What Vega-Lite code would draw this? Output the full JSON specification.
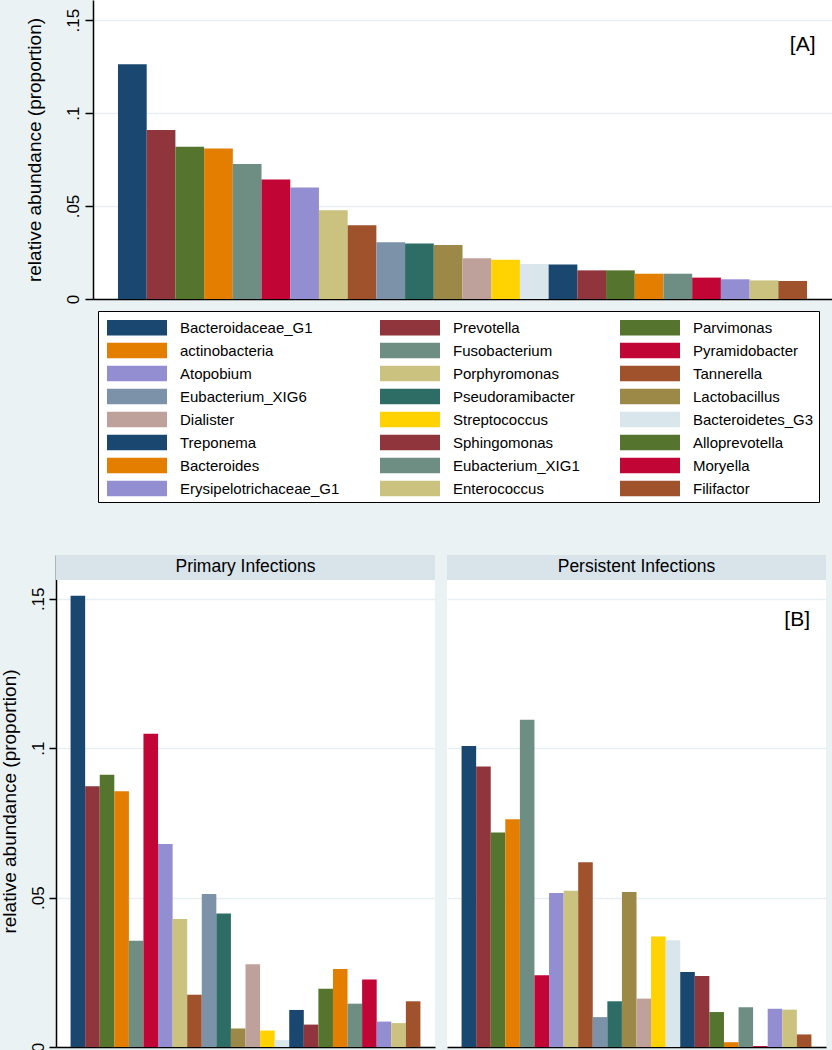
{
  "$schema": "https://vega.github.io/schema/vega-lite/v6.json",
  "background": "#EAF2F3",
  "padding": {"left": 0, "top": 0, "right": 0, "bottom": 0},
  "config": {
    "font": "Liberation Sans",
    "view": {"fill": "white", "stroke": null},
    "axis": {"zindex": 0, "domainColor": "#000000", "domainWidth": 1.5, "tickColor": "#000000", "tickWidth": 1.5, "gridColor": "#E6EFF1", "gridWidth": 1.3, "labelColor": "#000000", "titleColor": "#000000", "titleFontWeight": "normal"}
  },
  "datasets": {
    "overall": [
      {"taxon": "Bacteroidaceae_G1", "rank": 1, "value": 0.1262},
      {"taxon": "Prevotella", "rank": 2, "value": 0.0909},
      {"taxon": "Parvimonas", "rank": 3, "value": 0.0819},
      {"taxon": "actinobacteria", "rank": 4, "value": 0.0810},
      {"taxon": "Fusobacterium", "rank": 5, "value": 0.0726},
      {"taxon": "Pyramidobacter", "rank": 6, "value": 0.0643},
      {"taxon": "Atopobium", "rank": 7, "value": 0.0599},
      {"taxon": "Porphyromonas", "rank": 8, "value": 0.0477},
      {"taxon": "Tannerella", "rank": 9, "value": 0.0396},
      {"taxon": "Eubacterium_XIG6", "rank": 10, "value": 0.0305},
      {"taxon": "Pseudoramibacter", "rank": 11, "value": 0.0299},
      {"taxon": "Lactobacillus", "rank": 12, "value": 0.0290},
      {"taxon": "Dialister", "rank": 13, "value": 0.0219},
      {"taxon": "Streptococcus", "rank": 14, "value": 0.0211},
      {"taxon": "Bacteroidetes_G3", "rank": 15, "value": 0.0188},
      {"taxon": "Treponema", "rank": 16, "value": 0.0186},
      {"taxon": "Sphingomonas", "rank": 17, "value": 0.0154},
      {"taxon": "Alloprevotella", "rank": 18, "value": 0.0154},
      {"taxon": "Bacteroides", "rank": 19, "value": 0.0136},
      {"taxon": "Eubacterium_XIG1", "rank": 20, "value": 0.0136},
      {"taxon": "Moryella", "rank": 21, "value": 0.0115},
      {"taxon": "Erysipelotrichaceae_G1", "rank": 22, "value": 0.0106},
      {"taxon": "Enterococcus", "rank": 23, "value": 0.0100},
      {"taxon": "Filifactor", "rank": 24, "value": 0.0097}
    ],
    "infections": [
      {"group": "Primary Infections", "taxon": "Bacteroidaceae_G1", "rank": 1, "value": 0.1510},
      {"group": "Primary Infections", "taxon": "Prevotella", "rank": 2, "value": 0.0873},
      {"group": "Primary Infections", "taxon": "Parvimonas", "rank": 3, "value": 0.0911},
      {"group": "Primary Infections", "taxon": "actinobacteria", "rank": 4, "value": 0.0856},
      {"group": "Primary Infections", "taxon": "Fusobacterium", "rank": 5, "value": 0.0356},
      {"group": "Primary Infections", "taxon": "Pyramidobacter", "rank": 6, "value": 0.1048},
      {"group": "Primary Infections", "taxon": "Atopobium", "rank": 7, "value": 0.0679},
      {"group": "Primary Infections", "taxon": "Porphyromonas", "rank": 8, "value": 0.0428},
      {"group": "Primary Infections", "taxon": "Tannerella", "rank": 9, "value": 0.0175},
      {"group": "Primary Infections", "taxon": "Eubacterium_XIG6", "rank": 10, "value": 0.0512},
      {"group": "Primary Infections", "taxon": "Pseudoramibacter", "rank": 11, "value": 0.0447},
      {"group": "Primary Infections", "taxon": "Lactobacillus", "rank": 12, "value": 0.0062},
      {"group": "Primary Infections", "taxon": "Dialister", "rank": 13, "value": 0.0277},
      {"group": "Primary Infections", "taxon": "Streptococcus", "rank": 14, "value": 0.0055},
      {"group": "Primary Infections", "taxon": "Bacteroidetes_G3", "rank": 15, "value": 0.0023},
      {"group": "Primary Infections", "taxon": "Treponema", "rank": 16, "value": 0.0124},
      {"group": "Primary Infections", "taxon": "Sphingomonas", "rank": 17, "value": 0.0075},
      {"group": "Primary Infections", "taxon": "Alloprevotella", "rank": 18, "value": 0.0195},
      {"group": "Primary Infections", "taxon": "Bacteroides", "rank": 19, "value": 0.0261},
      {"group": "Primary Infections", "taxon": "Eubacterium_XIG1", "rank": 20, "value": 0.0145},
      {"group": "Primary Infections", "taxon": "Moryella", "rank": 21, "value": 0.0226},
      {"group": "Primary Infections", "taxon": "Erysipelotrichaceae_G1", "rank": 22, "value": 0.0085},
      {"group": "Primary Infections", "taxon": "Enterococcus", "rank": 23, "value": 0.0080},
      {"group": "Primary Infections", "taxon": "Filifactor", "rank": 24, "value": 0.0153},
      {"group": "Persistent Infections", "taxon": "Bacteroidaceae_G1", "rank": 1, "value": 0.1007},
      {"group": "Persistent Infections", "taxon": "Prevotella", "rank": 2, "value": 0.0939},
      {"group": "Persistent Infections", "taxon": "Parvimonas", "rank": 3, "value": 0.0718},
      {"group": "Persistent Infections", "taxon": "actinobacteria", "rank": 4, "value": 0.0762},
      {"group": "Persistent Infections", "taxon": "Fusobacterium", "rank": 5, "value": 0.1095},
      {"group": "Persistent Infections", "taxon": "Pyramidobacter", "rank": 6, "value": 0.0240},
      {"group": "Persistent Infections", "taxon": "Atopobium", "rank": 7, "value": 0.0515},
      {"group": "Persistent Infections", "taxon": "Porphyromonas", "rank": 8, "value": 0.0523},
      {"group": "Persistent Infections", "taxon": "Tannerella", "rank": 9, "value": 0.0618},
      {"group": "Persistent Infections", "taxon": "Eubacterium_XIG6", "rank": 10, "value": 0.0100},
      {"group": "Persistent Infections", "taxon": "Pseudoramibacter", "rank": 11, "value": 0.0153},
      {"group": "Persistent Infections", "taxon": "Lactobacillus", "rank": 12, "value": 0.0519},
      {"group": "Persistent Infections", "taxon": "Dialister", "rank": 13, "value": 0.0162},
      {"group": "Persistent Infections", "taxon": "Streptococcus", "rank": 14, "value": 0.0370},
      {"group": "Persistent Infections", "taxon": "Bacteroidetes_G3", "rank": 15, "value": 0.0357},
      {"group": "Persistent Infections", "taxon": "Treponema", "rank": 16, "value": 0.0251},
      {"group": "Persistent Infections", "taxon": "Sphingomonas", "rank": 17, "value": 0.0238},
      {"group": "Persistent Infections", "taxon": "Alloprevotella", "rank": 18, "value": 0.0117},
      {"group": "Persistent Infections", "taxon": "Bacteroides", "rank": 19, "value": 0.0016},
      {"group": "Persistent Infections", "taxon": "Eubacterium_XIG1", "rank": 20, "value": 0.0133},
      {"group": "Persistent Infections", "taxon": "Moryella", "rank": 21, "value": 0.0003},
      {"group": "Persistent Infections", "taxon": "Erysipelotrichaceae_G1", "rank": 22, "value": 0.0128},
      {"group": "Persistent Infections", "taxon": "Enterococcus", "rank": 23, "value": 0.0125},
      {"group": "Persistent Infections", "taxon": "Filifactor", "rank": 24, "value": 0.0042}
    ],
    "panels": [
      {"group": "Primary Infections"},
      {"group": "Persistent Infections"}
    ]
  },
  "spacing": 251,
  "vconcat": [
    {
      "bounds": "flush",
      "spacing": 0,
      "hconcat": [
        {
          "data": {"values": [{}]},
          "width": 37,
          "height": 299,
          "view": {"fill": null, "stroke": null},
          "mark": {"type": "point", "opacity": 0}
        },
        {
          "width": 739,
          "height": 299,
          "layer": [
            {
              "data": {"name": "overall"},
              "mark": {"type": "bar"},
              "encoding": {
                "x": {"field": "rank", "type": "ordinal", "scale": {"paddingInner": 0, "paddingOuter": 0.87}, "axis": {"labels": false, "ticks": false, "title": null, "grid": false, "domain": true}},
                "y": {"field": "value", "type": "quantitative", "scale": {"domain": [0, 0.1608], "nice": false, "zero": true},
                  "axis": {"values": [0, 0.05, 0.1, 0.15], "labelExpr": "datum.value == 0 ? '0' : replace(format(datum.value, '.2~f'), '0.', '.')", "labelAngle": 270, "labelAlign": "center", "labelBaseline": "alphabetic", "labelPadding": 7, "tickSize": 8, "labelFontSize": 17, "title": "relative abundance (proportion)", "titleFontSize": 19, "titlePadding": 20, "grid": true}},
                "color": {"field": "taxon", "type": "nominal",
                  "scale": {
                    "domain": ["Bacteroidaceae_G1", "Prevotella", "Parvimonas", "actinobacteria", "Fusobacterium", "Pyramidobacter", "Atopobium", "Porphyromonas", "Tannerella", "Eubacterium_XIG6", "Pseudoramibacter", "Lactobacillus", "Dialister", "Streptococcus", "Bacteroidetes_G3", "Treponema", "Sphingomonas", "Alloprevotella", "Bacteroides", "Eubacterium_XIG1", "Moryella", "Erysipelotrichaceae_G1", "Enterococcus", "Filifactor"],
                    "range": ["#1A476F", "#90353B", "#55752F", "#E37E00", "#6E8E84", "#C10534", "#938DD2", "#CAC27E", "#A0522D", "#7B92A8", "#2D6D66", "#9C8847", "#BFA19C", "#FFD200", "#D9E6EB", "#1A476F", "#90353B", "#55752F", "#E37E00", "#6E8E84", "#C10534", "#938DD2", "#CAC27E", "#A0522D"]
                  },
                  "legend": {"orient": "none", "legendX": 42, "legendY": 311, "direction": "horizontal", "columns": 3, "title": null, "symbolType": "M-2.609,-0.678L2.609,-0.678L2.609,0.678L-2.609,0.678Z", "symbolSize": 529, "symbolStrokeWidth": 0, "symbolOpacity": 1, "symbolOffset": 22.5, "labelOffset": 31.5, "labelFontSize": 15, "labelColor": "#000000", "labelLimit": 300, "columnPadding": 36, "rowPadding": 3, "padding": 5, "strokeColor": "#000000", "fillColor": "#FFFFFF", "gridAlign": "each"}
                }
              }
            },
            {
              "data": {"values": [{"label": "[A]"}]},
              "mark": {"type": "text", "fontSize": 21, "align": "center", "baseline": "middle", "dx": 10, "color": "#000000"},
              "encoding": {
                "text": {"field": "label"},
                "x": {"datum": 24, "type": "ordinal"},
                "y": {"datum": 0.1366, "type": "quantitative"}
              }
            }
          ]
        }
      ]
    },
    {
      "bounds": "flush",
      "spacing": 12,
      "hconcat": [
        {
          "width": 379,
          "height": 492,
          "layer": [
            {
              "data": {"name": "panels"},
              "transform": [{"filter": "datum.group == 'Primary Infections'"}],
              "mark": {"type": "rect", "color": "#D9E4EA"},
              "encoding": {
                "y": {"datum": 0.15629, "type": "quantitative", "title": "relative abundance (proportion)"},
                "y2": {"datum": 0.16466}
              }
            },
            {
              "data": {"name": "infections"},
              "transform": [{"filter": "datum.group == 'Primary Infections'"}],
              "mark": {"type": "bar"},
              "encoding": {
                "x": {"field": "rank", "type": "ordinal", "scale": {"paddingInner": 0, "paddingOuter": 1.34}, "axis": {"labels": false, "ticks": false, "title": null, "grid": false, "domain": true}},
                "y": {"field": "value", "type": "quantitative", "title": "relative abundance (proportion)", "scale": {"domain": [0, 0.16466], "nice": false, "zero": true},
                  "axis": {"values": [0, 0.05, 0.1, 0.15], "labelExpr": "datum.value == 0 ? '0' : replace(format(datum.value, '.2~f'), '0.', '.')", "labelAngle": 270, "labelAlign": "center", "labelBaseline": "alphabetic", "labelPadding": 6, "tickSize": 7, "labelFontSize": 17, "titleFontSize": 19, "titlePadding": 10, "grid": true}},
                "color": {"field": "taxon", "type": "nominal"}
              }
            },
            {
              "data": {"name": "panels"},
              "transform": [{"filter": "datum.group == 'Primary Infections'"}],
              "mark": {"type": "text", "fontSize": 17.5, "align": "center", "baseline": "middle", "color": "#000000"},
              "encoding": {
                "text": {"field": "group"},
                "y": {"datum": 0.16048, "type": "quantitative", "title": "relative abundance (proportion)"}
              }
            }
          ]
        },
        {
          "width": 379,
          "height": 492,
          "layer": [
            {
              "data": {"name": "panels"},
              "transform": [{"filter": "datum.group == 'Persistent Infections'"}],
              "mark": {"type": "rect", "color": "#D9E4EA"},
              "encoding": {
                "y": {"datum": 0.15629, "type": "quantitative", "title": null},
                "y2": {"datum": 0.16466}
              }
            },
            {
              "data": {"name": "infections"},
              "transform": [{"filter": "datum.group == 'Persistent Infections'"}],
              "mark": {"type": "bar"},
              "encoding": {
                "x": {"field": "rank", "type": "ordinal", "scale": {"paddingInner": 0, "paddingOuter": 1.34}, "axis": {"labels": false, "ticks": false, "title": null, "grid": false, "domain": true}},
                "y": {"field": "value", "type": "quantitative", "title": null, "scale": {"domain": [0, 0.16466], "nice": false, "zero": true},
                  "axis": {"values": [0, 0.05, 0.1, 0.15], "labels": false, "ticks": false, "domain": false, "grid": true}},
                "color": {"field": "taxon", "type": "nominal"}
              }
            },
            {
              "data": {"name": "panels"},
              "transform": [{"filter": "datum.group == 'Persistent Infections'"}],
              "mark": {"type": "text", "fontSize": 17.5, "align": "center", "baseline": "middle", "color": "#000000"},
              "encoding": {
                "text": {"field": "group"},
                "y": {"datum": 0.16048, "type": "quantitative", "title": null}
              }
            },
            {
              "data": {"values": [{"label": "[B]"}]},
              "mark": {"type": "text", "fontSize": 21, "align": "center", "baseline": "middle", "dx": -7, "color": "#000000"},
              "encoding": {
                "text": {"field": "label"},
                "x": {"datum": 24, "type": "ordinal"},
                "y": {"datum": 0.1428, "type": "quantitative", "title": null}
              }
            }
          ]
        }
      ]
    }
  ]
}
